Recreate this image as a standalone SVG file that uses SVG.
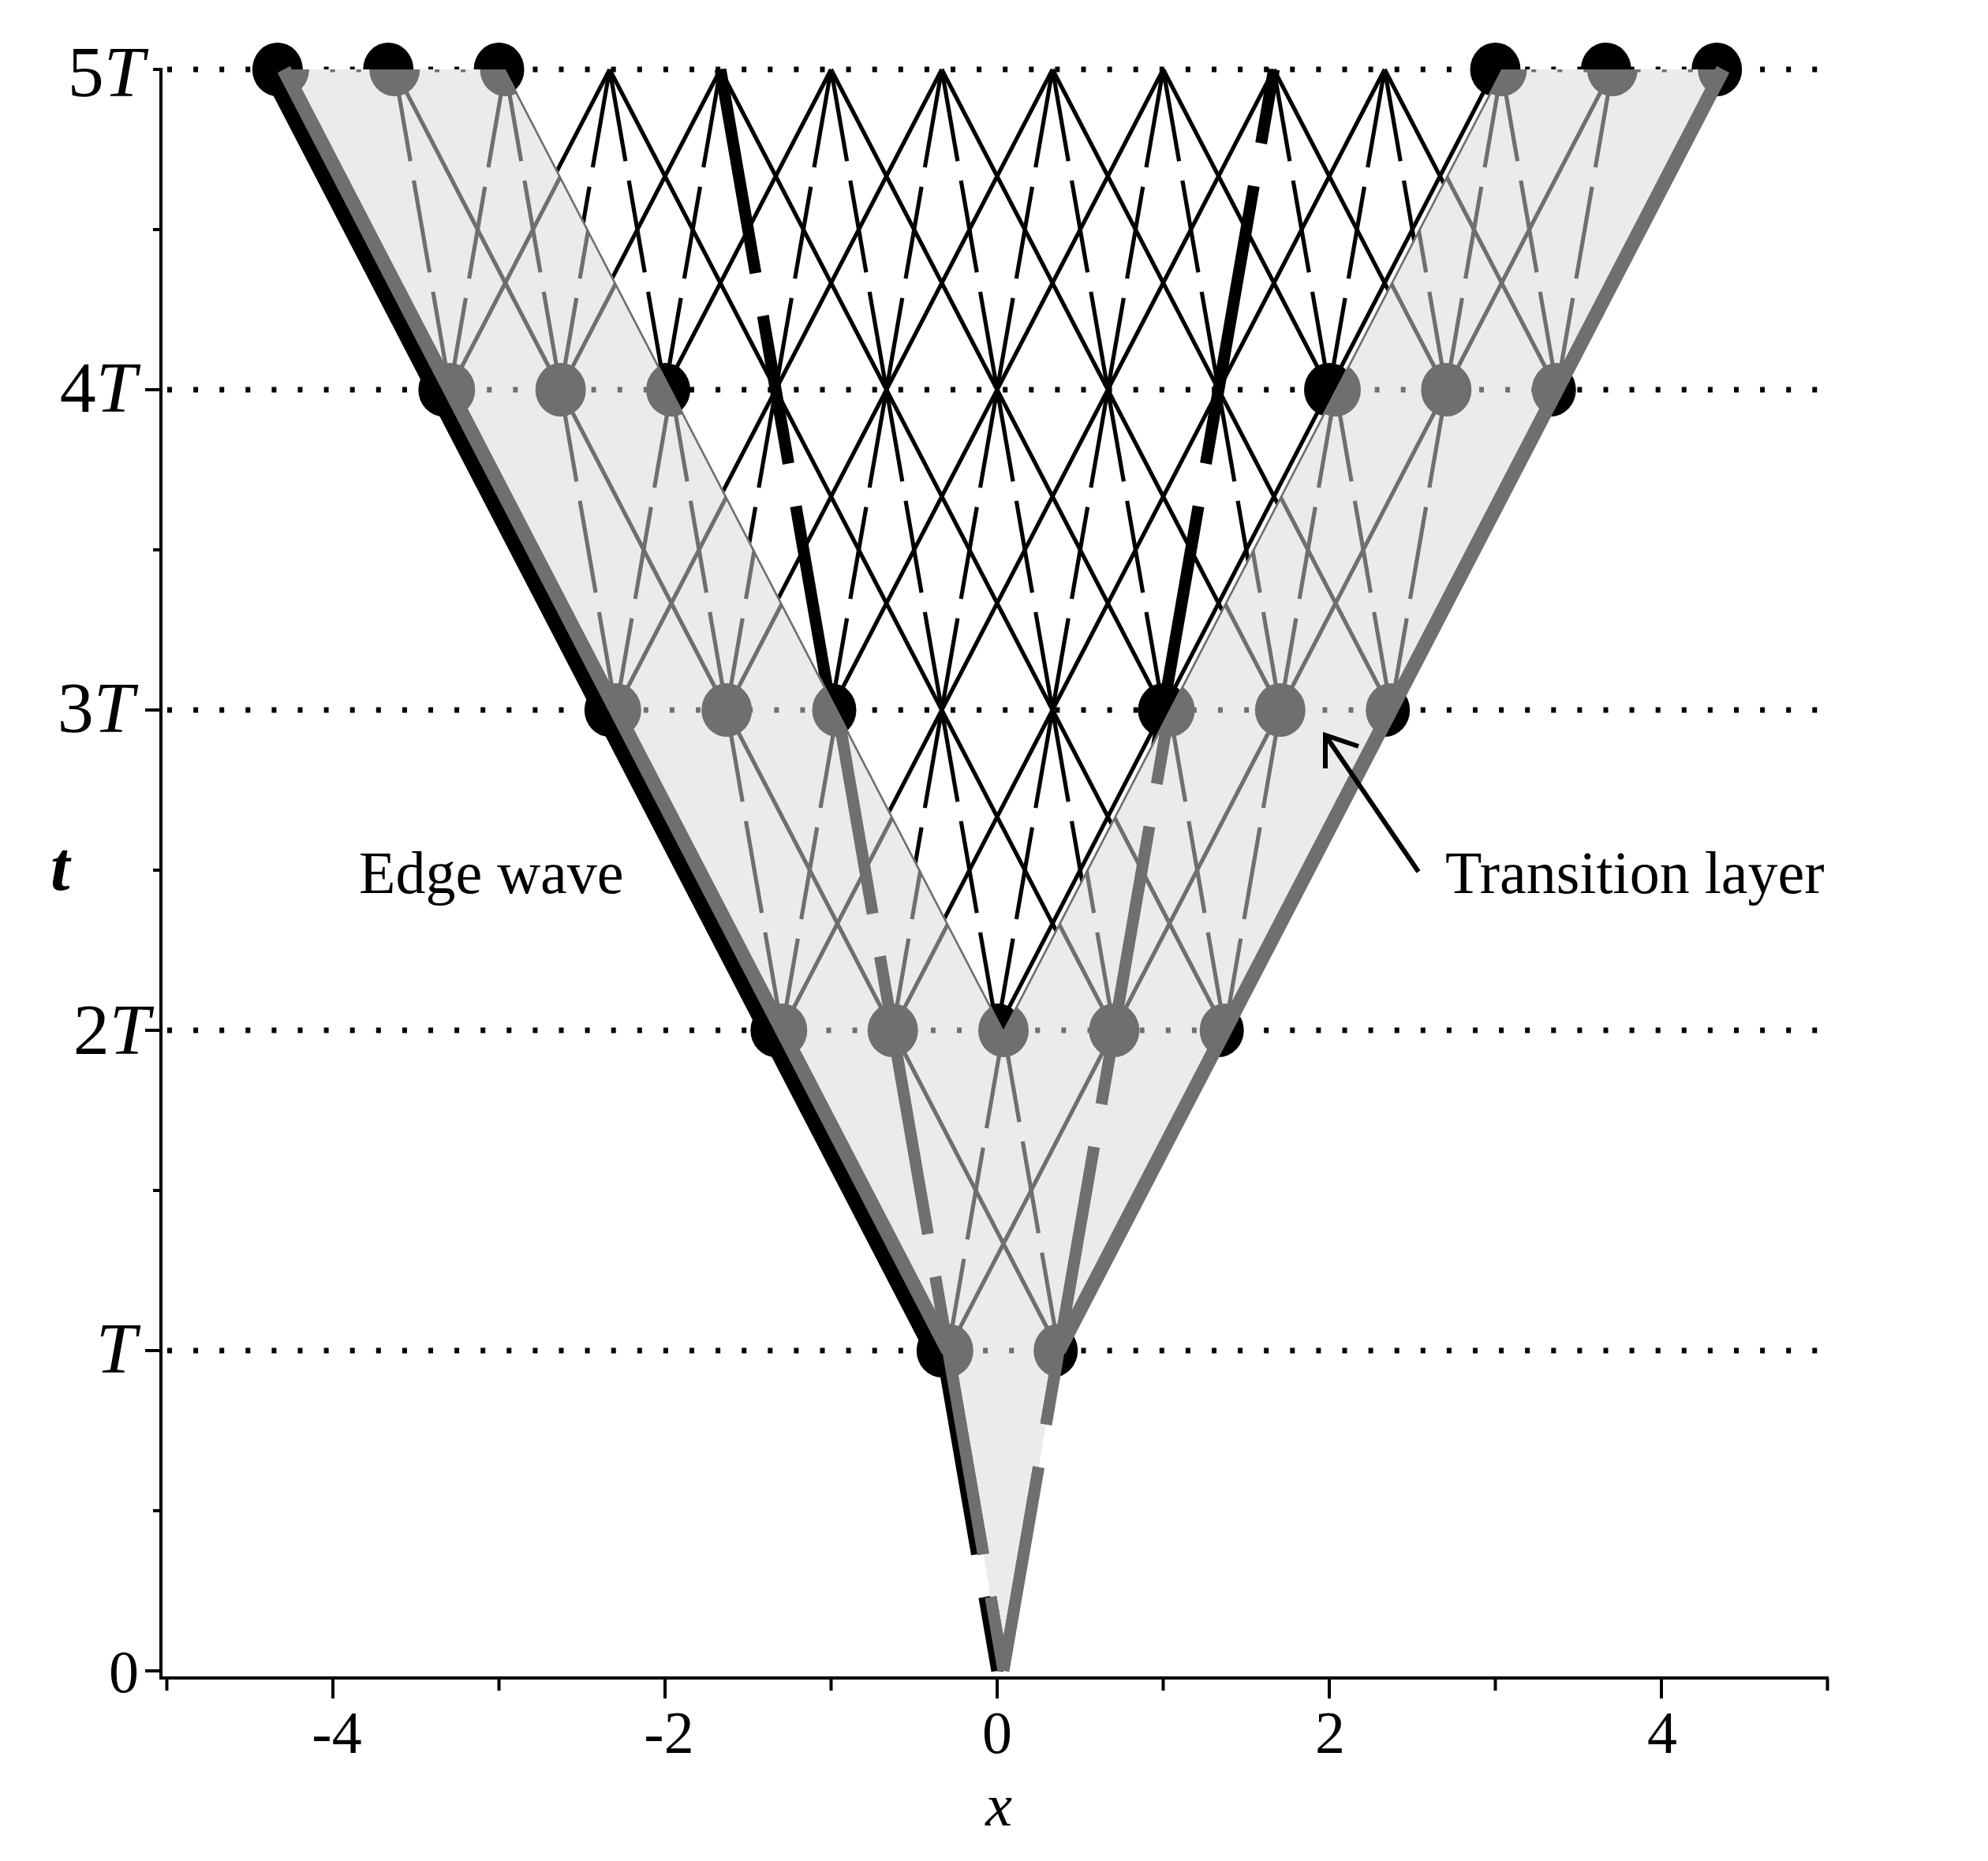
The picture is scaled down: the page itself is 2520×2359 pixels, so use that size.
<svg xmlns="http://www.w3.org/2000/svg" xmlns:xlink="http://www.w3.org/1999/xlink" width="2520" height="2359" viewBox="0 0 2520 2359">
<style>
text{font-family:"Liberation Serif","Times New Roman",serif;fill:#000}
.lbl{font-size:92px}
.num{font-size:76px}
.it{font-style:italic}
</style>
<defs>
<g id="lattice">
<path id="levels" fill="none" stroke-width="7" stroke-dasharray="6 27.1" d="M212 88H2318M212 494H2318M212 900H2318M212 1306H2318M212 1712H2318"/>
<path id="solid" fill="none" stroke-width="5.2" d="M351.8 88L562.3 494M492.2 88L702.7 494M632.5 88L843 494M772.8 88L562.3 494M772.8 88L983.3 494M913.2 88L702.7 494M913.2 88L1123.7 494M1053.5 88L843 494M1053.5 88L1264 494M1193.8 88L983.3 494M1193.8 88L1404.3 494M1334.2 88L1123.7 494M1334.2 88L1544.7 494M1474.5 88L1264 494M1474.5 88L1685 494M1614.8 88L1404.3 494M1614.8 88L1825.3 494M1755.2 88L1544.7 494M1755.2 88L1965.7 494M1895.5 88L1685 494M2035.8 88L1825.3 494M2176.2 88L1965.7 494M562.3 494L772.8 900M702.7 494L913.2 900M843 494L1053.5 900M983.3 494L772.8 900M983.3 494L1193.8 900M1123.7 494L913.2 900M1123.7 494L1334.2 900M1264 494L1053.5 900M1264 494L1474.5 900M1404.3 494L1193.8 900M1404.3 494L1614.8 900M1544.7 494L1334.2 900M1544.7 494L1755.2 900M1685 494L1474.5 900M1825.3 494L1614.8 900M1965.7 494L1755.2 900M772.8 900L983.3 1306M913.2 900L1123.7 1306M1053.5 900L1264 1306M1193.8 900L983.3 1306M1193.8 900L1404.3 1306M1334.2 900L1123.7 1306M1334.2 900L1544.7 1306M1474.5 900L1264 1306M1614.8 900L1404.3 1306M1755.2 900L1544.7 1306M983.3 1306L1193.8 1712M1123.7 1306L1334.2 1712M1404.3 1306L1193.8 1712M1544.7 1306L1334.2 1712"/>
<path id="dashed" fill="none" stroke-width="5.2" stroke-dasharray="118 25" d="M492.2 88L562.3 494M562.3 494L632.5 88M632.5 88L702.7 494M702.7 494L772.8 88M772.8 88L843 494M843 494L913.2 88M983.3 494L1053.5 88M1053.5 88L1123.7 494M1123.7 494L1193.8 88M1193.8 88L1264 494M1264 494L1334.2 88M1334.2 88L1404.3 494M1404.3 494L1474.5 88M1474.5 88L1544.7 494M1614.8 88L1685 494M1685 494L1755.2 88M1755.2 88L1825.3 494M1825.3 494L1895.5 88M1895.5 88L1965.7 494M1965.7 494L2035.8 88M702.7 494L772.8 900M772.8 900L843 494M843 494L913.2 900M913.2 900L983.3 494M1053.5 900L1123.7 494M1123.7 494L1193.8 900M1193.8 900L1264 494M1264 494L1334.2 900M1334.2 900L1404.3 494M1404.3 494L1474.5 900M1544.7 494L1614.8 900M1614.8 900L1685 494M1685 494L1755.2 900M1755.2 900L1825.3 494M913.2 900L983.3 1306M983.3 1306L1053.5 900M1123.7 1306L1193.8 900M1193.8 900L1264 1306M1264 1306L1334.2 900M1334.2 900L1404.3 1306M1474.5 900L1544.7 1306M1544.7 1306L1614.8 900M1193.8 1712L1264 1306M1264 1306L1334.2 1712"/>
<path id="thick" fill="none" stroke-width="15" stroke-dasharray="262 55" d="M913.2 88L983.3 494M1053.5 900L983.3 494M1053.5 900L1123.7 1306M1123.7 1306L1193.8 1712M1193.8 1712L1264 2118M1544.7 494L1614.8 88M1474.5 900L1544.7 494M1404.3 1306L1474.5 900M1334.2 1712L1404.3 1306M1264 2118L1334.2 1712"/>
<g id="dots" stroke="none">
<ellipse cx="351.8" cy="88" rx="32" ry="34"/><ellipse cx="492.2" cy="88" rx="32" ry="34"/><ellipse cx="632.5" cy="88" rx="32" ry="34"/><ellipse cx="1895.5" cy="88" rx="32" ry="34"/><ellipse cx="2035.8" cy="88" rx="32" ry="34"/><ellipse cx="2176.2" cy="88" rx="32" ry="34"/>
<ellipse cx="562.3" cy="494" rx="32" ry="34"/><ellipse cx="702.7" cy="494" rx="32" ry="34"/><ellipse cx="843" cy="494" rx="32" ry="34"/><ellipse cx="1685" cy="494" rx="32" ry="34"/><ellipse cx="1825.3" cy="494" rx="32" ry="34"/><ellipse cx="1965.7" cy="494" rx="32" ry="34"/>
<ellipse cx="772.8" cy="900" rx="32" ry="34"/><ellipse cx="913.2" cy="900" rx="32" ry="34"/><ellipse cx="1053.5" cy="900" rx="32" ry="34"/><ellipse cx="1474.5" cy="900" rx="32" ry="34"/><ellipse cx="1614.8" cy="900" rx="32" ry="34"/><ellipse cx="1755.2" cy="900" rx="32" ry="34"/>
<ellipse cx="983.3" cy="1306" rx="32" ry="34"/><ellipse cx="1123.7" cy="1306" rx="32" ry="34"/><ellipse cx="1264" cy="1306" rx="32" ry="34"/><ellipse cx="1404.3" cy="1306" rx="32" ry="34"/><ellipse cx="1544.7" cy="1306" rx="32" ry="34"/>
<ellipse cx="1193.8" cy="1712" rx="32" ry="34"/><ellipse cx="1334.2" cy="1712" rx="32" ry="34"/>
</g>
</g>
<clipPath id="band"><polygon points="351.8,88 632.5,88 1264,1306 1895.5,88 2176.2,88 1334.2,1712 1264,2118 1193.8,1712"/></clipPath>
</defs>
<rect width="2520" height="2359" fill="#fff"/>
<g id="black-scheme">
<use xlink:href="#lattice" href="#lattice" stroke="#000" fill="#000"/>
<path id="left-edge-black" d="M351.8 88L1193.8 1712" stroke="#000" stroke-width="40" fill="none"/>
</g>
<g id="transition-layer" transform="translate(8 0)">
<polygon points="351.8,88 632.5,88 1264,1306 1895.5,88 2176.2,88 1334.2,1712 1264,2118 1193.8,1712" fill="#ebebeb"/>
<use xlink:href="#lattice" href="#lattice" stroke="#6f6f6f" fill="#6f6f6f" clip-path="url(#band)"/>
<g id="edges-grey" stroke="#6f6f6f" fill="none">
<path d="M351.8 88L1193.8 1712M2176.2 88L1334.2 1712" stroke-width="18"/>
<path d="M1193.8 1712L1264 2118M1264 2118L1334.2 1712" stroke-width="15" stroke-dasharray="262 55"/>
</g>
</g>
<g id="axes" stroke="#000" fill="none" stroke-width="4">
<path d="M204 86V2129M202 2127H2318"/>
<path d="M184 2118H204M184 1712H204M184 1306H204M184 900H204M184 494H204M194 88H204M194 1915H204M194 1509H204M194 1103H204M194 697H204M194 291H204"/>
<path d="M422 2127V2153M843 2127V2153M1264 2127V2153M1685 2127V2153M2106 2127V2153M211.5 2127V2143M632.5 2127V2143M1053.5 2127V2143M1474.5 2127V2143M1895.5 2127V2143M2316.5 2127V2143"/>
</g>
<g id="labels">
<text class="lbl" x="183" y="122" text-anchor="end">5<tspan class="it">T</tspan></text>
<text class="lbl" x="173" y="522" text-anchor="end">4<tspan class="it">T</tspan></text>
<text class="lbl" x="170" y="928" text-anchor="end">3<tspan class="it">T</tspan></text>
<text class="lbl" x="190" y="1336" text-anchor="end">2<tspan class="it">T</tspan></text>
<text class="lbl it" x="173" y="1740" text-anchor="end">T</text>
<text class="num" x="176" y="2145" text-anchor="end">0</text>
<text x="64" y="1128" font-size="88" font-style="italic" font-weight="bold">t</text>
<text class="num" x="427" y="2222" text-anchor="middle">-4</text>
<text class="num" x="848" y="2222" text-anchor="middle">-2</text>
<text class="num" x="1264" y="2222" text-anchor="middle">0</text>
<text class="num" x="1686" y="2222" text-anchor="middle">2</text>
<text class="num" x="2107" y="2222" text-anchor="middle">4</text>
<text class="num it" x="1266" y="2314" text-anchor="middle">x</text>
<text class="num" x="455" y="1132">Edge wave</text>
<text class="num" x="1832" y="1132">Transition layer</text>
</g>
<g id="connectors">
<path id="arrow" d="M1798 1105L1680 932M1680 974L1680 932L1722 946" stroke="#000" stroke-width="6" fill="none"/>
</g>
</svg>
